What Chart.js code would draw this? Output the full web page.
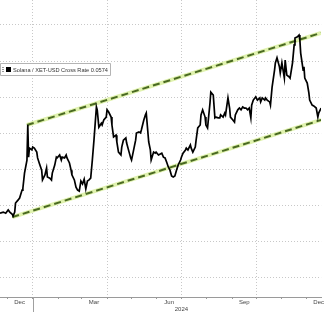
<!DOCTYPE html>
<html>
<head>
<meta charset="utf-8">
<script src="https://cdn.jsdelivr.net/npm/chart.js@4"></script>
<style>
  html, body { margin: 0; padding: 0; background: #fff; }
  #wrap { width: 324px; height: 312px; }
</style>
</head>
<body>
<div id="wrap"><canvas id="solEth" width="324" height="312"></canvas></div>
<script>
// days counted from 2024-01-01
const days = [
  -40, -36, -33, -30, -28, -25, -24, -22, -21, -18, -16, -13, -12, -10, -7, -6, -5, -4, -1, 0,
  2, 5, 6, 8, 11, 12, 15, 17, 18, 21, 23, 24, 27, 29, 30, 33, 35, 36, 39, 41,
  42, 45, 47, 48, 51, 53, 55, 57, 59, 61, 63, 65, 67, 69, 71, 73, 75, 78, 79, 81,
  84, 85, 87, 90, 91, 93, 96, 97, 99, 102, 103, 105, 108, 109, 111, 114, 115, 118, 120, 121,
  124, 126, 127, 130, 132, 133, 136, 138, 139, 142, 144, 145, 148, 150, 151, 154, 158, 160, 162, 164,
  166, 168, 170, 172, 174, 176, 178, 181, 182, 184, 187, 188, 190, 193, 194, 196, 199, 200, 202, 205,
  206, 208, 211, 212, 214, 217, 218, 221, 223, 224, 227, 229, 230, 233, 235, 236, 239, 241, 242, 245,
  247, 248, 251, 253, 255, 257, 259, 261, 263, 265, 267, 268, 270, 273, 275, 278, 279, 281, 284, 285,
  287, 290, 291, 293, 296, 297, 299, 302, 303, 305, 308, 309, 311, 314, 315, 318, 320, 321, 324, 326,
  327, 328, 331, 332, 333, 336, 338, 339, 342, 344, 347, 349, 350, 353
];
const crossRate = [
  0.0279, 0.0282, 0.0279, 0.0288, 0.0282, 0.0276, 0.0271, 0.0282, 0.0307, 0.0315, 0.0321, 0.0343, 0.0348, 0.0390, 0.0426, 0.0523, 0.0434, 0.0459, 0.0454, 0.0462,
  0.0459, 0.0448, 0.0432, 0.0418, 0.0398, 0.0371, 0.0385, 0.0404, 0.0379, 0.0376, 0.0371, 0.0390, 0.0412, 0.0434, 0.0432, 0.0440, 0.0426, 0.0434, 0.0432, 0.0440,
  0.0432, 0.0418, 0.0398, 0.0385, 0.0371, 0.0351, 0.0343, 0.0340, 0.0368, 0.0360, 0.0373, 0.0346, 0.0368, 0.0371, 0.0376, 0.0426, 0.0481, 0.0573, 0.0565, 0.0517,
  0.0528, 0.0523, 0.0537, 0.0545, 0.0565, 0.0559, 0.0545, 0.0523, 0.0490, 0.0495, 0.0476, 0.0448, 0.0440, 0.0462, 0.0481, 0.0487, 0.0473, 0.0448, 0.0432, 0.0426,
  0.0459, 0.0481, 0.0501, 0.0504, 0.0501, 0.0509, 0.0537, 0.0551, 0.0556, 0.0476, 0.0454, 0.0426, 0.0448, 0.0445, 0.0448, 0.0440, 0.0445, 0.0434, 0.0432, 0.0420,
  0.0407, 0.0398, 0.0382, 0.0379, 0.0382, 0.0398, 0.0412, 0.0426, 0.0434, 0.0445, 0.0454, 0.0459, 0.0454, 0.0468, 0.0459, 0.0448, 0.0462, 0.0481, 0.0515, 0.0523,
  0.0551, 0.0565, 0.0545, 0.0523, 0.0515, 0.0584, 0.0614, 0.0606, 0.0543, 0.0545, 0.0543, 0.0543, 0.0551, 0.0545, 0.0556, 0.0551, 0.0598, 0.0570, 0.0545, 0.0537,
  0.0531, 0.0551, 0.0565, 0.0570, 0.0565, 0.0573, 0.0570, 0.0570, 0.0565, 0.0570, 0.0543, 0.0578, 0.0592, 0.0601, 0.0592, 0.0598, 0.0587, 0.0598, 0.0592, 0.0598,
  0.0592, 0.0587, 0.0578, 0.0628, 0.0675, 0.0695, 0.0709, 0.0684, 0.0667, 0.0695, 0.0653, 0.0703, 0.0661, 0.0656, 0.0653, 0.0695, 0.0745, 0.0764, 0.0767, 0.0772,
  0.0758, 0.0722, 0.0675, 0.0684, 0.0653, 0.0639, 0.0612, 0.0592, 0.0578, 0.0576, 0.0570, 0.0545, 0.0556, 0.0570
];

// trend channel
const upperDays = [-7, 353];
const upperRate = [0.0523, 0.0778];
const lowerDays = [-25, 353];
const lowerRate = [0.0268, 0.0537];

// x axis: month starts (ticks), quarter starts (grid), mid-month labels
const monthStarts = [-31, 0, 31, 60, 91, 121, 152, 182, 213, 244, 274, 305, 335];
const quarterStarts = [0, 91, 182, 274];
const labelDays = [-16, 75, 167, 259, 350];
const monthLabels = ['Dec', 'Mar', 'Jun', 'Sep', 'Dec'];
const yearDay = 182;
const yearLabel = '2024';
const yTicks = [0.01, 0.02, 0.03, 0.04, 0.05, 0.06, 0.07, 0.08];

const legendText = 'Solana / XET-USD Cross Rate 0.0574';

const toXY = (xs, ys) => xs.map((d, i) => ({ x: d, y: ys[i] }));
const gridCol = '#c8c8c8';

const legendBox = {
  id: 'legendBox',
  afterDraw(chart) {
    const c = chart.ctx;
    const xs = chart.scales.x;
    c.save();
    c.setLineDash([]);
    // year separator under the axis
    const jx = Math.round(xs.getPixelForValue(0)) + 0.5;
    c.strokeStyle = '#a0a0a0';
    c.lineWidth = 1;
    c.beginPath();
    c.moveTo(jx, xs.top);
    c.lineTo(jx, chart.height);
    c.stroke();

    // legend
    c.fillStyle = '#fff';
    c.strokeStyle = '#b4b4b4';
    c.beginPath();
    c.rect(0.5, 63.5, 110, 12);
    c.fill();
    c.stroke();
    c.fillStyle = '#999';
    c.fillRect(2, 67, 2, 1);
    c.fillRect(2, 69, 2, 1);
    c.fillRect(2, 71, 2, 1);
    c.fillStyle = '#000';
    c.fillRect(6, 67, 5, 5);
    c.font = '6px "Liberation Sans", sans-serif';
    c.fillStyle = '#333';
    c.textBaseline = 'middle';
    c.fillText(legendText, 13, 70, 95);
    c.restore();
  }
};

new Chart(document.getElementById('solEth'), {
  type: 'line',
  data: {
    datasets: [
      { data: toXY(days, crossRate), borderColor: '#000', borderWidth: 1.7, pointRadius: 0, tension: 0, order: 0 },
      { data: toXY(upperDays, upperRate), borderColor: '#4a6a22', borderWidth: 2, borderDash: [7, 4], pointRadius: 0, order: 1 },
      { data: toXY(lowerDays, lowerRate), borderColor: '#4a6a22', borderWidth: 2, borderDash: [7, 4], pointRadius: 0, order: 1 },
      { data: toXY(upperDays, upperRate), borderColor: '#e0f2ae', borderWidth: 4, pointRadius: 0, order: 2 },
      { data: toXY(lowerDays, lowerRate), borderColor: '#e0f2ae', borderWidth: 4, pointRadius: 0, order: 2 }
    ]
  },
  options: {
    responsive: false,
    animation: false,
    layout: { padding: 0 },
    plugins: { legend: { display: false }, tooltip: { enabled: false } },
    scales: {
      x: {
        type: 'linear',
        min: -40,
        max: 353,
        afterBuildTicks: s => {
          s.ticks = monthStarts.concat(labelDays).sort((a, b) => a - b).map(v => ({ value: v }));
        },
        afterFit: s => { s.height = 15; },
        border: { display: true, color: '#9a9a9a', width: 1, dash: [1, 2] },
        grid: {
          color: ctx => (ctx.tick && quarterStarts.includes(ctx.tick.value)) ? gridCol : 'rgba(0,0,0,0)',
          tickColor: ctx => (ctx.tick && monthStarts.includes(ctx.tick.value)) ? '#9a9a9a' : 'rgba(0,0,0,0)',
          tickLength: 2,
          tickBorderDash: [],
          lineWidth: 1
        },
        ticks: {
          autoSkip: false,
          maxRotation: 0,
          padding: 0,
          color: '#444',
          font: { family: 'Liberation Sans', size: 6, lineHeight: 1.15 },
          callback: v => {
            const i = labelDays.indexOf(v);
            if (i >= 0) return monthLabels[i];
            if (v === yearDay) return ['', yearLabel];
            return '';
          }
        }
      },
      y: {
        type: 'linear',
        min: 0.0047,
        max: 0.0869,
        afterBuildTicks: s => { s.ticks = yTicks.map(v => ({ value: v })); },
        border: { display: false, dash: [1, 2] },
        grid: { color: gridCol, drawTicks: false, lineWidth: 1 },
        ticks: { display: false }
      }
    }
  },
  plugins: [legendBox]
});
</script>
</body>
</html>
